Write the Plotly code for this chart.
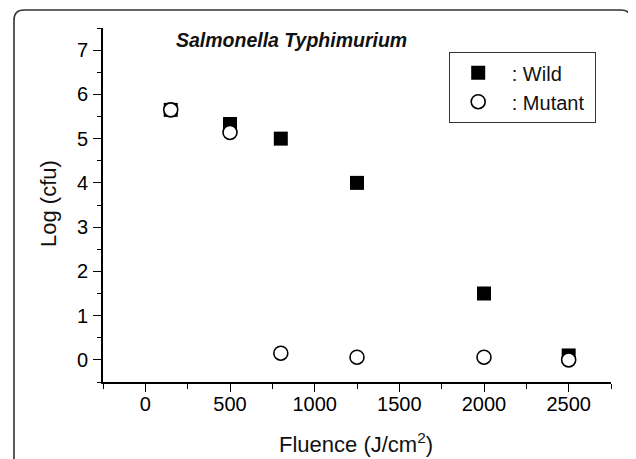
import plotly.graph_objects as go

# Data
wild_fluence = [150, 500, 800, 1250, 2000, 2500]
wild_log = [5.65, 5.33, 5.0, 4.0, 1.5, 0.1]
mutant_fluence = [150, 500, 800, 1250, 2000, 2500]
mutant_log = [5.65, 5.14, 0.15, 0.06, 0.06, 0.0]

W, H = 636, 459
OFF = 8  # page body margin
# plot area in screen coordinates: x 103..611, y 28..382
ML = 103 - OFF
MT = 28 - OFF
MR = W - (611 - OFF)
MB = H - (382 - OFF)
PW, PH = W - ML - MR, H - MT - MB


def px(x):
    return (x - OFF - ML) / PW


def py(y):
    return (H - MB - (y - OFF)) / PH


FONT = "Liberation Sans, Arial, sans-serif"

fig = go.Figure()
fig.add_trace(go.Scatter(
    x=wild_fluence, y=wild_log, mode="markers", name="\u00a0: Wild",
    marker=dict(symbol="square", size=14, color="black", line=dict(width=0))))
fig.add_trace(go.Scatter(
    x=mutant_fluence, y=mutant_log, mode="markers", name="\u00a0: Mutant\u00a0",
    marker=dict(symbol="circle", size=14, color="white", line=dict(width=1.6, color="black"))))

axis_common = dict(showline=True, linecolor="black", linewidth=1.6, mirror=False,
                   showgrid=False, zeroline=False, ticks="outside", ticklen=8,
                   tickwidth=1.4, tickcolor="black",
                   tickfont=dict(family=FONT, size=20, color="#000"))

fig.update_xaxes(range=[-250, 2750], tickmode="linear", tick0=0, dtick=500,
                 minor=dict(ticks="outside", ticklen=5, tickwidth=1.4, tickcolor="black",
                            tickmode="linear", tick0=0, dtick=250),
                 ticklabelstandoff=-5,
                 **axis_common)
fig.update_yaxes(range=[-0.5, 7.5], tickmode="linear", tick0=0, dtick=1,
                 minor=dict(ticks="outside", ticklen=4, tickwidth=1.4, tickcolor="black",
                            tickmode="linear", tick0=0, dtick=0.5),
                 ticklabelstandoff=1,
                 **axis_common)

# Outer rounded frame (screen coords)
r = 10
L, T, R, B = 14, 10, 631, 480
path = (f"M {px(L)},{py(B)} L {px(L)},{py(T + r)} Q {px(L)},{py(T)} {px(L + r)},{py(T)} "
        f"L {px(R - r)},{py(T)} Q {px(R)},{py(T)} {px(R)},{py(T + r)} L {px(R)},{py(B)}")
fig.add_shape(type="path", path=path, xref="paper", yref="paper",
              line=dict(color="#333", width=1.6), layer="below")

fig.add_annotation(text="<b><i>Salmonella Typhimurium</i></b>", x=px(291), y=py(40),
                   xref="paper", yref="paper", showarrow=False, xanchor="center",
                   yanchor="middle", font=dict(family=FONT, size=19.5, color="#111"))
fig.add_annotation(text="Fluence (J/cm<sup>2</sup>)", x=px(356), y=py(443),
                   xref="paper", yref="paper", showarrow=False, xanchor="center",
                   yanchor="middle", font=dict(family=FONT, size=22, color="#111"))
fig.add_annotation(text="Log (cfu)", x=px(48), y=py(204), textangle=-90,
                   xref="paper", yref="paper", showarrow=False, xanchor="center",
                   yanchor="middle", font=dict(family=FONT, size=22, color="#111"))

fig.update_layout(
    width=W, height=H,
    margin=dict(l=ML, r=MR, t=MT, b=MB, autoexpand=False),
    paper_bgcolor="white", plot_bgcolor="white",
    showlegend=True,
    legend=dict(x=px(449), y=py(52), xanchor="left", yanchor="top",
                bordercolor="#333", borderwidth=1.2, bgcolor="white",
                font=dict(family=FONT, size=20, color="#111"),
                itemwidth=46, tracegroupgap=0),
)

fig.write_html("out.html")
